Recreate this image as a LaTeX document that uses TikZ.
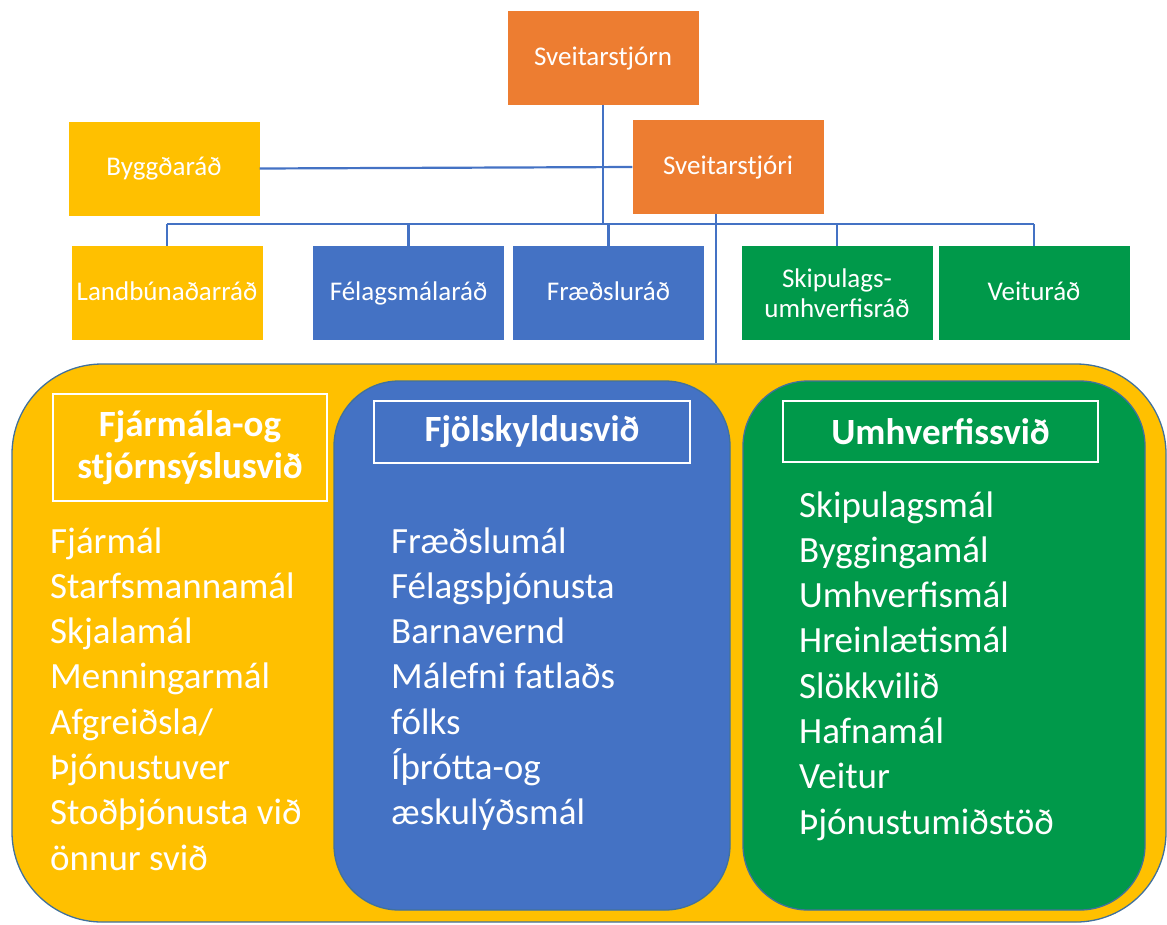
\documentclass[tikz,border=0pt]{standalone}
\usepackage{fontspec}
\setmainfont{Carlito}
\usetikzlibrary{calc}
\definecolor{cOrange}{HTML}{ED7D31}
\definecolor{cYellow}{HTML}{FFC000}
\definecolor{cBlue}{HTML}{4472C4}
\definecolor{cGreen}{HTML}{00994A}
\definecolor{cLine}{HTML}{4472C4}
\definecolor{cEdge}{HTML}{41719C}
\tikzset{
 orgbox/.style={rectangle, inner sep=0pt, minimum width=191pt, minimum height=94pt, text=white, align=center, font=\fontsize{27}{30}\selectfont},
 oneline/.style={text height=19pt, text depth=5pt},
 conn/.style={draw=cLine, line width=2.2pt},
 panel/.style={rectangle, inner sep=0pt, draw=cEdge, line width=1.3pt},
 titlebox/.style={rectangle, inner sep=0pt, draw=white, line width=1.2pt, text=white, align=center, font=\fontsize{37}{42}\selectfont\bfseries},
 listtext/.style={anchor=base west, inner sep=0pt, text=white, font=\fontsize{37}{45.3}\selectfont}
}
\begin{document}
\begin{tikzpicture}[x=1pt,y=-1pt]
\useasboundingbox (0,0) rectangle (1167,924);
% top boxes
\node[orgbox, oneline, fill=cOrange] (sj) at (603,58) {Sveitarstjórn};
\node[orgbox, oneline, fill=cYellow] (bygg) at (164,168.5) {Byggðaráð};
\node[orgbox, oneline, fill=cOrange] (sjori) at (728,167) {Sveitarstjóri};
\node[orgbox, oneline, fill=cYellow] (land) at (167,293) {Landbúnaðarráð};
\node[orgbox, oneline, fill=cBlue] (fel) at (408.5,293) {Félagsmálaráð};
\node[orgbox, oneline, fill=cBlue] (fra) at (608.5,293) {Fræðsluráð};
\node[orgbox, fill=cGreen] (skip) at (837,293) {Skipulags-\\umhverfisráð};
\node[orgbox, oneline, fill=cGreen] (veit) at (1034,293) {Veituráð};
% big panel
\node[panel, fill=cYellow, rounded corners=90pt, minimum width=1154pt, minimum height=558pt] (big) at (589,643) {};
\node[panel, fill=cBlue, rounded corners=65pt, minimum width=396pt, minimum height=529pt] (fam) at (532,645.5) {};
\node[panel, fill=cGreen, rounded corners=65pt, minimum width=402pt, minimum height=529pt] (env) at (944,645.5) {};
% title boxes
\node[titlebox, minimum width=274pt, minimum height=107pt] (t1) at (190,447.5) {Fjármála-og\\stjórnsýslusvið};
\node[titlebox, minimum width=316pt, minimum height=62pt] (t2) at (532,432) {Fjölskyldusvið};
\node[titlebox, minimum width=315pt, minimum height=61pt] (t3) at (940.5,431.5) {Umhverfissvið};
% lists
\node[listtext] (l1) at (50,553) {\vtop{\hbox{Fjármál}\hbox{Starfsmannamál}\hbox{Skjalamál}\hbox{Menningarmál}\hbox{Afgreiðsla/}\hbox{Þjónustuver}\hbox{Stoðþjónusta við}\hbox{önnur svið}}};
\node[listtext] (l2) at (391,553) {\vtop{\hbox{Fræðslumál}\hbox{Félagsþjónusta}\hbox{Barnavernd}\hbox{Málefni fatlaðs}\hbox{fólks}\hbox{Íþrótta-og}\hbox{æskulýðsmál}}};
\node[listtext] (l3) at (799,517) {\vtop{\hbox{Skipulagsmál}\hbox{Byggingamál}\hbox{Umhverfismál}\hbox{Hreinlætismál}\hbox{Slökkvilið}\hbox{Hafnamál}\hbox{Veitur}\hbox{Þjónustumiðstöð}}};
% connectors
\coordinate (bus) at (0,224);
\draw[conn] (bygg.east) -- (sjori.west);
\draw[conn] (sj.south) -- (sj.south |- bus);
\draw[conn] (land.north |- bus) -- (veit.north |- bus);
\foreach \n in {land,fel,fra,skip,veit}{\draw[conn] (\n.north) -- (\n.north |- bus);}
\coordinate (sjout) at ($(sjori.south)+(-12,0)$);
\draw[conn] (sjout) -- (sjout |- big.north);
\end{tikzpicture}
\end{document}
